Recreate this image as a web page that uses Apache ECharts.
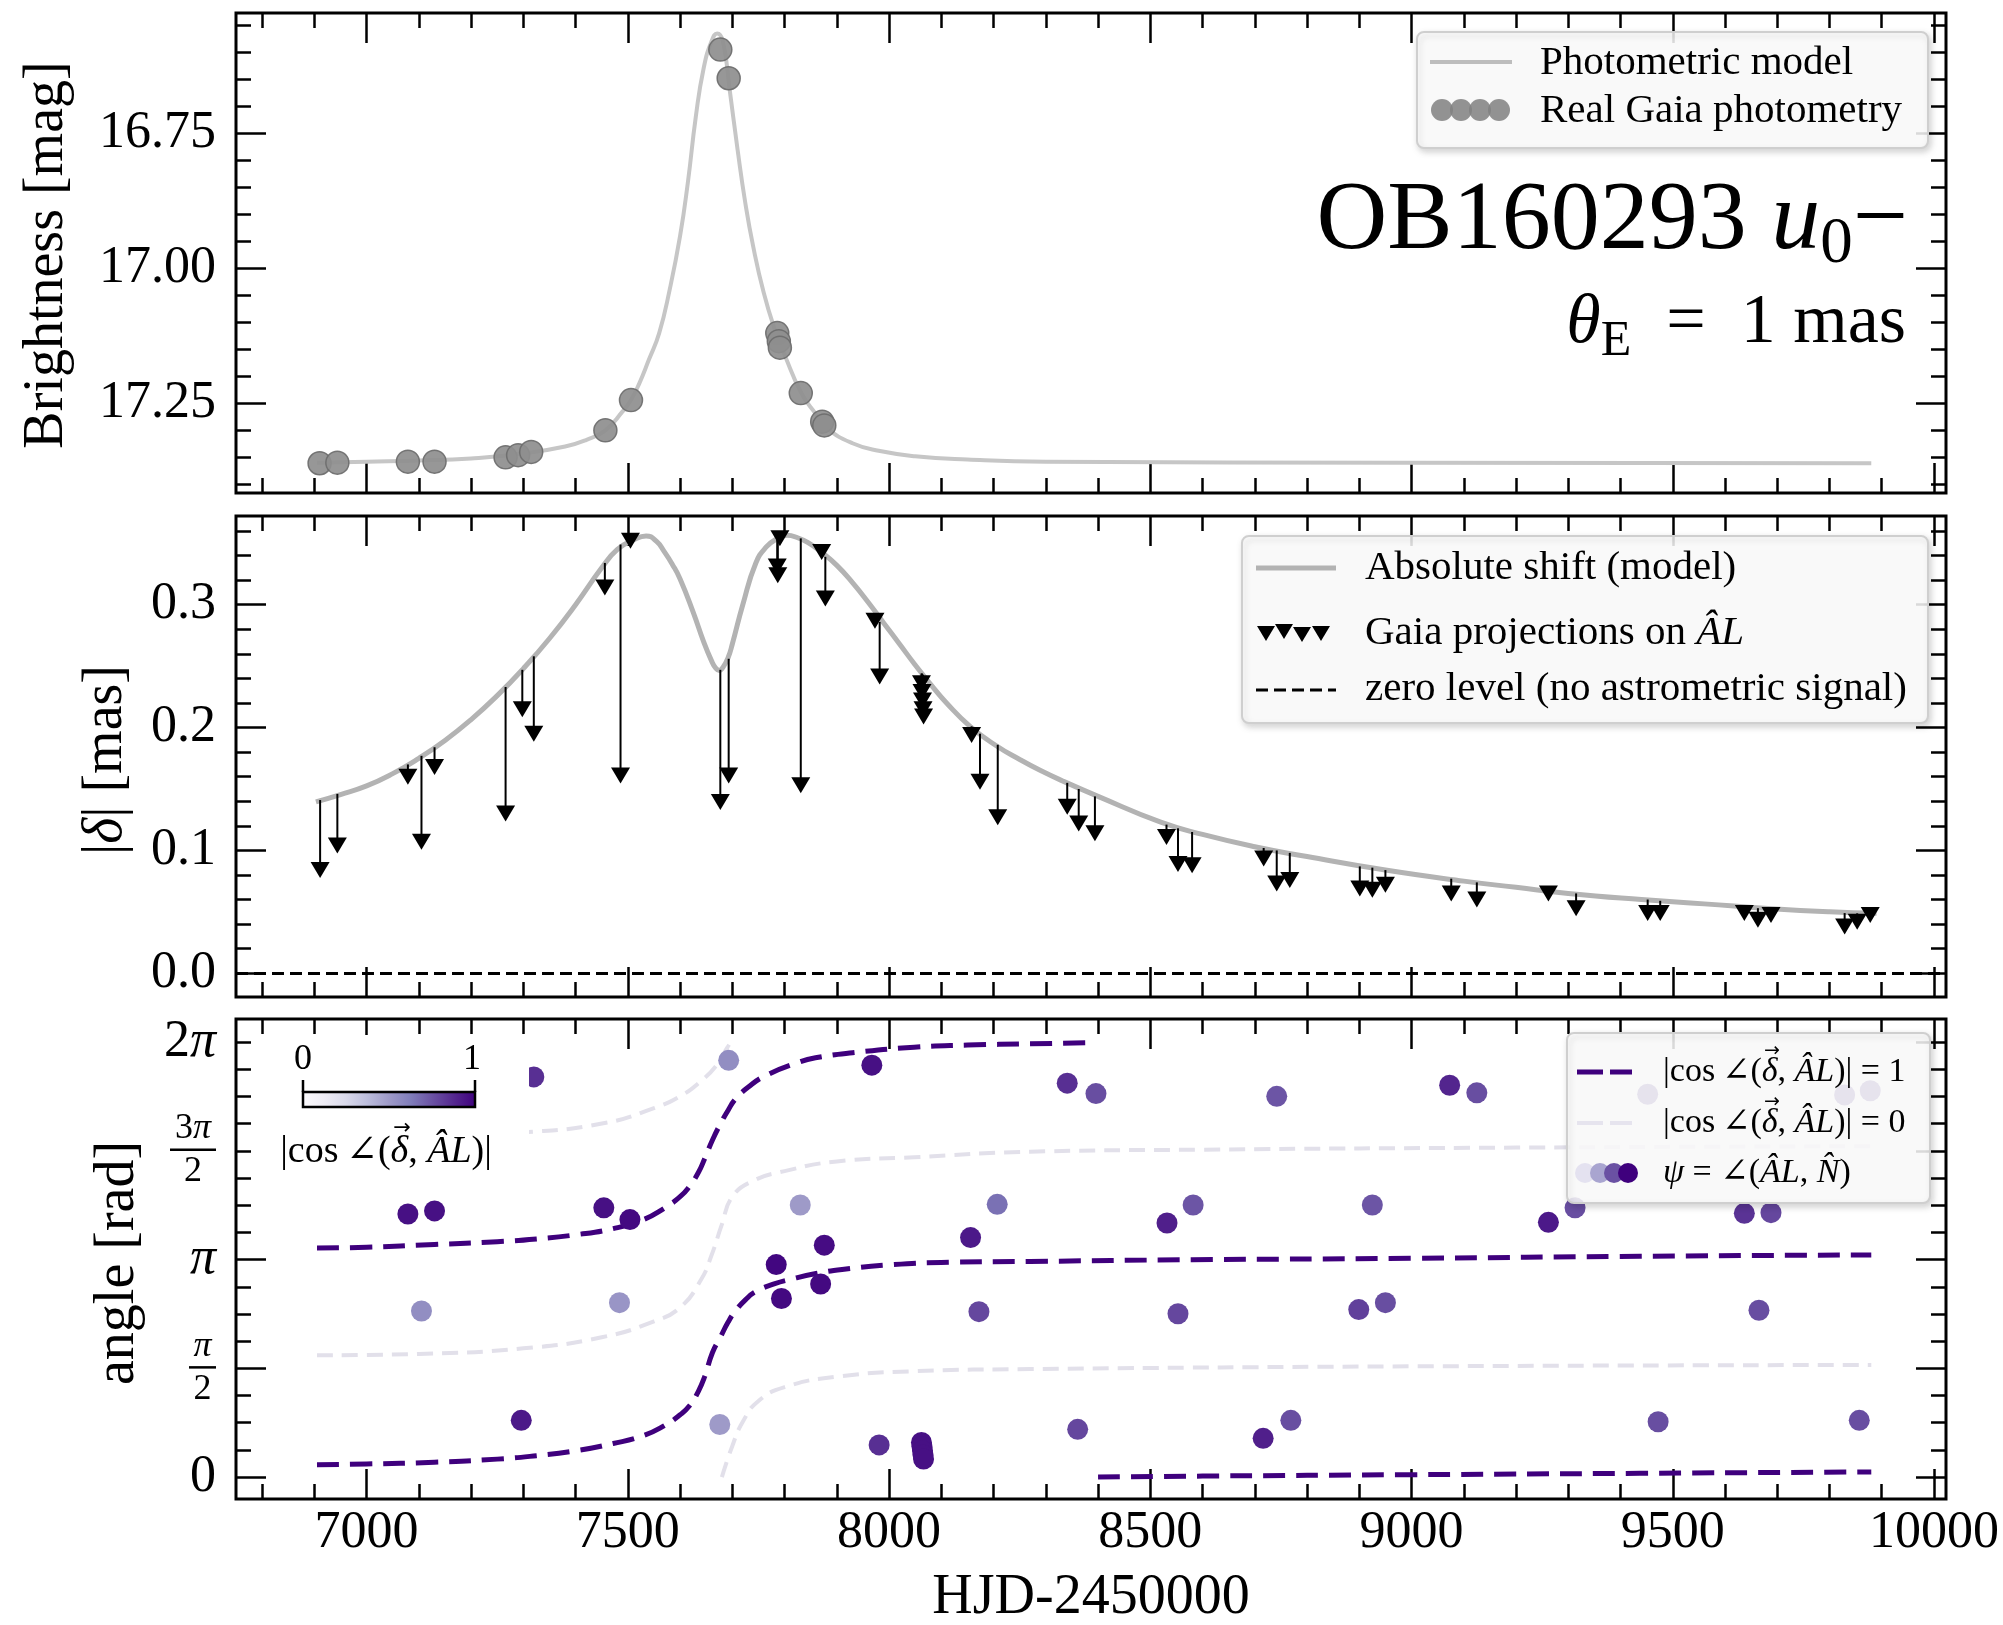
<!DOCTYPE html>
<html>
<head>
<meta charset="utf-8">
<title>OB160293 u0− — photometry, astrometric shift and scan angles</title>
<script src="https://cdn.jsdelivr.net/npm/echarts@6/dist/echarts.min.js"></script>
<style>
  html, body { margin: 0; padding: 0; background: #ffffff; }
  #chart { width: 2003px; height: 1625px; }
</style>
</head>
<body>
<div id="chart"></div>
<script>
// ---------------------------------------------------------------------------
// Data (time axis in HJD-2450000)
// ---------------------------------------------------------------------------
const X_MIN = 6750, X_MAX = 10023;
const xTickValues = [7000, 7500, 8000, 8500, 9000, 9500, 10000];

// Panel 1: light curve [t, mag]
const magTickValues = [16.75, 17.00, 17.25];
const photModel = [
  [6905, 17.360], [7000, 17.358], [7100, 17.356], [7200, 17.352], [7300, 17.343],
  [7380, 17.330], [7420, 17.318], [7457, 17.300], [7490, 17.265], [7506, 17.244],
  [7522, 17.213], [7540, 17.170], [7560, 17.120], [7580, 17.040], [7600, 16.940],
  [7615, 16.840], [7630, 16.720], [7645, 16.630], [7660, 16.580], [7671, 16.565],
  [7682, 16.580], [7695, 16.670], [7710, 16.780], [7725, 16.880], [7740, 16.960],
  [7760, 17.045], [7780, 17.110], [7800, 17.160], [7832, 17.231], [7860, 17.270],
  [7881, 17.296], [7930, 17.324], [7980, 17.338], [8050, 17.348], [8150, 17.354],
  [8300, 17.358], [9000, 17.360], [9880, 17.361]
];
const photObs = [
  [6910, 17.361], [6944, 17.360], [7079, 17.358], [7130, 17.358], [7266, 17.350],
  [7290, 17.346], [7315, 17.340], [7457, 17.300], [7506, 17.244], [7677, 16.595],
  [7693, 16.648], [7786, 17.120], [7789, 17.135], [7791, 17.147], [7831, 17.231],
  [7872, 17.284], [7876, 17.291]
];

// Panel 2: astrometric shift [t, mas]
const shiftTickValues = [0.0, 0.1, 0.2, 0.3];
const shiftModel = [
  [6903, 0.1395], [6950, 0.1455], [7000, 0.1525], [7050, 0.1625], [7100, 0.1750],
  [7150, 0.1895], [7200, 0.2065], [7250, 0.2260], [7300, 0.2480], [7350, 0.2725],
  [7400, 0.3000], [7450, 0.3300], [7480, 0.3450], [7510, 0.3525], [7535, 0.3560],
  [7555, 0.3515], [7570, 0.3430], [7585, 0.3330], [7600, 0.3210], [7625, 0.2940],
  [7645, 0.2700], [7660, 0.2545], [7668, 0.2485], [7675, 0.2465], [7682, 0.2490],
  [7692, 0.2570], [7700, 0.2680], [7720, 0.3000], [7745, 0.3340], [7765, 0.3470],
  [7785, 0.3535], [7805, 0.3565], [7825, 0.3545], [7845, 0.3505], [7870, 0.3430],
  [7900, 0.3320], [7930, 0.3180], [7960, 0.3020], [7990, 0.2850], [8020, 0.2680],
  [8050, 0.2510], [8080, 0.2350], [8110, 0.2200], [8155, 0.2010], [8206, 0.1850],
  [8250, 0.1740], [8290, 0.1650], [8335, 0.1560], [8400, 0.1440], [8520, 0.1230],
  [8600, 0.1130], [8700, 0.1030], [8800, 0.0950], [8950, 0.0840], [9100, 0.0750],
  [9200, 0.0700], [9300, 0.0650], [9440, 0.0600], [9560, 0.0565], [9690, 0.0525],
  [9800, 0.0500], [9890, 0.0488]
];
const projT = [6911, 6944, 7079, 7105, 7130, 7266, 7298, 7320, 7456, 7486, 7505,
  7677, 7693, 7786, 7787, 7791, 7831, 7871, 7878, 7973, 7982, 8062, 8063, 8064,
  8065, 8066, 8158, 8174, 8208, 8341, 8363, 8394, 8531, 8553, 8580, 8717, 8742,
  8767, 8901, 8925, 8950, 9076, 9125, 9262, 9315, 9452, 9476, 9637, 9663, 9688,
  9829, 9853, 9878];
const projVal = [0.084, 0.104, 0.160, 0.107, 0.168, 0.130, 0.215, 0.195, 0.314,
  0.161, 0.352, 0.1395, 0.161, 0.331, 0.324, 0.354, 0.153, 0.343, 0.305, 0.287,
  0.2415, 0.236, 0.229, 0.222, 0.215, 0.209, 0.194, 0.156, 0.127, 0.1355, 0.122,
  0.114, 0.111, 0.089, 0.088, 0.0935, 0.073, 0.076, 0.069, 0.068, 0.072, 0.065,
  0.060, 0.065, 0.053, 0.049, 0.049, 0.049, 0.0435, 0.0475, 0.038, 0.042, 0.0475];
const projModel = [0.141, 0.146, 0.170, 0.177, 0.184, 0.233, 0.247, 0.258, 0.334,
  0.349, 0.353, 0.247, 0.256, 0.353, 0.353, 0.355, 0.354, 0.343, 0.339, 0.291,
  0.286, 0.244, 0.244, 0.243, 0.243, 0.242, 0.201, 0.195, 0.186, 0.155, 0.150,
  0.144, 0.121, 0.118, 0.115, 0.102, 0.100, 0.098, 0.087, 0.086, 0.084, 0.077,
  0.074, 0.067, 0.065, 0.060, 0.059, 0.054, 0.053, 0.0525, 0.049, 0.0488, 0.0485];

// Panel 3: angles [t, rad]
const angleTickValues = [0, Math.PI / 2, Math.PI, 3 * Math.PI / 2, 2 * Math.PI];
const angleTickLabels = ['0', 'π/2', 'π', '3π/2', '2π'];
const alignedLow = [
  [6905, 0.18], [7000, 0.19], [7130, 0.215], [7250, 0.26], [7325, 0.31], [7400, 0.38],
  [7472, 0.485], [7530, 0.60], [7569, 0.74], [7600, 0.90], [7618, 1.03], [7635, 1.24],
  [7647, 1.45], [7662, 1.80], [7677, 2.02], [7692, 2.24], [7706, 2.40], [7725, 2.56],
  [7745, 2.68], [7780, 2.79], [7813, 2.86], [7860, 2.94], [7910, 3.00], [8008, 3.07],
  [8100, 3.10], [8270, 3.115], [8580, 3.14], [9000, 3.16], [9437, 3.19], [9880, 3.21]
];
const alignedHigh = [
  [6905, 3.31], [7000, 3.32], [7130, 3.36], [7250, 3.40], [7325, 3.44], [7400, 3.50],
  [7472, 3.59], [7530, 3.72], [7569, 3.88], [7600, 4.05], [7618, 4.20], [7635, 4.40],
  [7647, 4.60], [7662, 4.87], [7677, 5.10], [7692, 5.30], [7706, 5.46], [7730, 5.63],
  [7764, 5.80], [7826, 5.99], [7862, 6.06], [7930, 6.13], [8048, 6.21], [8150, 6.24],
  [8270, 6.258], [8395, 6.275]
];
const alignedWrap = [
  [8400, 0.0], [8600, 0.015], [9000, 0.035], [9437, 0.055], [9880, 0.075]
];
const perpA = [
  [6905, 1.76], [7100, 1.78], [7300, 1.86], [7450, 2.02], [7550, 2.25], [7600, 2.45],
  [7640, 2.85], [7660, 3.20], [7680, 3.65], [7700, 4.05], [7740, 4.28], [7800, 4.42],
  [7900, 4.56], [8048, 4.62], [8270, 4.70], [8600, 4.73], [9200, 4.76], [9880, 4.78]
];
const perpB1 = [
  [6905, 4.87], [7100, 4.92], [7300, 4.98], [7453, 5.11], [7550, 5.33], [7600, 5.50],
  [7640, 5.72], [7670, 5.95], [7690, 6.20], [7697, 6.28]
];
const perpB2 = [
  [7680, 0.0], [7700, 0.45], [7720, 0.80], [7750, 1.10], [7800, 1.30], [7900, 1.45],
  [8050, 1.53], [8270, 1.56], [9000, 1.60], [9880, 1.62]
];
// scan angle psi: [t, rad, |cos|]
const psiObs = [
  [7079, 3.80, 0.95], [7105, 2.40, 0.55], [7130, 3.845, 0.95], [7296, 0.82, 0.92],
  [7320, 5.78, 0.85], [7454, 3.89, 0.95], [7484, 2.52, 0.52], [7504, 3.72, 0.97],
  [7676, 0.76, 0.50], [7693, 6.02, 0.55], [7784, 3.07, 0.98], [7794, 2.58, 0.97],
  [7830, 3.93, 0.50], [7869, 2.79, 0.97], [7876, 3.35, 0.96], [7967, 5.95, 0.95],
  [7981, 0.465, 0.85], [8062, 0.50, 0.95], [8063, 0.44, 0.95], [8064, 0.38, 0.95],
  [8065, 0.32, 0.95], [8066, 0.26, 0.95], [8156, 3.46, 0.92], [8172, 2.39, 0.78],
  [8207, 3.94, 0.66], [8341, 5.69, 0.85], [8361, 0.69, 0.78], [8396, 5.54, 0.76],
  [8532, 3.67, 0.90], [8553, 2.36, 0.78], [8582, 3.93, 0.74], [8716, 0.56, 0.90],
  [8742, 5.50, 0.74], [8769, 0.82, 0.76], [8899, 2.42, 0.80], [8925, 3.93, 0.74],
  [8950, 2.52, 0.76], [9073, 5.66, 0.88], [9125, 5.55, 0.76], [9262, 3.68, 0.92],
  [9313, 3.89, 0.76], [9452, 5.53, 0.76], [9472, 0.80, 0.76], [9637, 3.81, 0.84],
  [9665, 2.41, 0.76], [9688, 3.82, 0.78], [9829, 5.52, 0.76], [9857, 0.82, 0.76],
  [9878, 5.58, 0.76]
];

// ---------------------------------------------------------------------------
// Styling helpers
// ---------------------------------------------------------------------------
const FONT = "'Liberation Serif', 'DejaVu Serif', serif";
const PURPLES = ['#fcfbfd', '#efedf5', '#dadaeb', '#bcbddc', '#9e9ac8',
                 '#807dba', '#6a51a3', '#54278f', '#3f007d'];

function steps(from, to, step) {
  const out = [];
  const n = Math.round((to - from) / step);
  for (let k = 0; k <= n; k++) out.push(+(from + k * step).toFixed(6));
  return out;
}
const xMinorTicks = steps(6800, 10000, 100);
const magMinorTicks = steps(16.55, 17.40, 0.05);
const shiftMinorTicks = steps(0, 0.36, 0.02);
const angleMinorTicks = steps(0, 16, 1).map(k => k * Math.PI / 8);

const tickLine = { color: '#000', width: 2.5 };
function makeAxis(gridIndex, position, min, max, ticks, len, extra) {
  return Object.assign({
    type: 'value', gridIndex, position, min, max,
    axisLine: { show: false, onZero: false },
    splitLine: { show: false },
    axisTick: { show: true, inside: true, length: len, customValues: ticks, lineStyle: tickLine },
    axisLabel: { show: false }
  }, extra || {});
}

function angleLabel(v) {
  const i = angleTickValues.findIndex(t => Math.abs(t - v) < 1e-6);
  if (i < 0) return '';
  const s = angleTickLabels[i];
  if (s.indexOf('/') >= 0) {
    const [num, den] = s.split('/');
    const bar = num.length > 1 ? 'bar3' : 'bar1';
    const top = num.replace(/(\d*)π/, (m, d) => (d ? '{n|' + d + '}' : '') + '{np|π}');
    return top + '\n{' + bar + '| }\n{d|' + den + '}';
  }
  if (s.indexOf('π') >= 0) return s.replace(/(\d*)π/, (m, d) => (d ? '{a|' + d + '}' : '') + '{p|π}');
  return '{a|' + s + '}';
}
const angleRich = {
  a: { fontSize: 52, fontFamily: FONT, color: '#000' },
  p: { fontSize: 52, fontFamily: FONT, fontStyle: 'italic', color: '#000' },
  n: { fontSize: 36, fontFamily: FONT, color: '#000', align: 'center', lineHeight: 34 },
  np: { fontSize: 36, fontFamily: FONT, fontStyle: 'italic', color: '#000', align: 'center', lineHeight: 34 },
  bar3: { width: 46, height: 2.5, lineHeight: 8, fontSize: 1, backgroundColor: '#000', align: 'center' },
  bar1: { width: 27, height: 2.5, lineHeight: 8, fontSize: 1, backgroundColor: '#000', align: 'center' },
  d: { fontSize: 36, fontFamily: FONT, color: '#000', align: 'center', lineHeight: 36 }
};

const yDefs = [
  { min: 16.5272, max: 17.4161, inverse: true, major: magTickValues, minor: magMinorTicks,
    label: { formatter: v => v.toFixed(2) } },
  { min: -0.0193, max: 0.3722, inverse: false, major: shiftTickValues, minor: shiftMinorTicks,
    label: { formatter: v => v.toFixed(1) } },
  { min: -0.316, max: 6.617, inverse: false, major: angleTickValues, minor: angleMinorTicks,
    label: { formatter: angleLabel, rich: angleRich } }
];

const grids = [
  { left: 236, top: 13, width: 1710, height: 480 },
  { left: 236, top: 516, width: 1710, height: 481 },
  { left: 236, top: 1019, width: 1710, height: 480 }
].map(g => Object.assign(g, { show: true, borderColor: '#000', borderWidth: 3,
  backgroundColor: 'transparent', containLabel: false, outerBoundsMode: 'none' }));

const xAxes = [], yAxes = [];
[0, 1, 2].forEach(g => {
  const xLabel = g === 2 ? { axisLabel: { show: true, customValues: xTickValues, margin: 8,
    fontSize: 52, fontFamily: FONT, color: '#000', formatter: v => String(Math.round(v)) } } : null;
  xAxes.push(makeAxis(g, 'bottom', X_MIN, X_MAX, xTickValues, 30, xLabel));
  xAxes.push(makeAxis(g, 'bottom', X_MIN, X_MAX, xMinorTicks, 15));
  xAxes.push(makeAxis(g, 'top', X_MIN, X_MAX, xTickValues, 30));
  xAxes.push(makeAxis(g, 'top', X_MIN, X_MAX, xMinorTicks, 15));

  const d = yDefs[g];
  const yLabel = { inverse: d.inverse, axisLabel: Object.assign({ show: true, customValues: d.major,
    margin: 20, fontSize: 52, fontFamily: FONT, color: '#000' }, d.label) };
  yAxes.push(makeAxis(g, 'left', d.min, d.max, d.major, 30, yLabel));
  yAxes.push(makeAxis(g, 'left', d.min, d.max, d.minor, 15, { inverse: d.inverse }));
  yAxes.push(makeAxis(g, 'right', d.min, d.max, d.major, 30, { inverse: d.inverse }));
  yAxes.push(makeAxis(g, 'right', d.min, d.max, d.minor, 15, { inverse: d.inverse }));
});

// ---------------------------------------------------------------------------
// Series
// ---------------------------------------------------------------------------
const ax = g => ({ xAxisIndex: 4 * g, yAxisIndex: 4 * g });
const curve = (g, data, color, width, dash, z) => Object.assign({
  type: 'line', data, symbol: 'none', showSymbol: false, smooth: 0.5,
  silent: true, z: z || 2, lineStyle: { color, width, type: dash || 'solid', cap: 'butt', join: 'round' }
}, ax(g));

const series = [
  curve(0, photModel, '#c6c6c6', 4),
  Object.assign({ type: 'scatter', data: photObs, symbolSize: 23, silent: true, z: 3,
    itemStyle: { color: '#8e8e8e', borderColor: '#6c6c6c', borderWidth: 1.5, opacity: 0.92 } }, ax(0)),

  Object.assign(curve(1, shiftModel, '#b3b3b3', 5), {
    markLine: { silent: true, symbol: ['none', 'none'], label: { show: false },
      lineStyle: { color: '#000', type: [12, 6], width: 3 }, data: [{ yAxis: 0 }] }
  }),
  Object.assign({
    type: 'custom', silent: true, z: 3,
    data: projT.map((t, i) => [t, projModel[i], projVal[i]]),
    renderItem: (params, api) => {
      const a = api.coord([api.value(0), api.value(1)]);
      const b = api.coord([api.value(0), api.value(2)]);
      return { type: 'line', shape: { x1: a[0], y1: a[1], x2: b[0], y2: b[1] },
        style: { stroke: '#000', lineWidth: 2 } };
    }
  }, ax(1)),
  Object.assign({ type: 'scatter', data: projT.map((t, i) => [t, projVal[i]]), silent: true, z: 4,
    symbol: 'triangle', symbolRotate: 180, symbolSize: [19, 16],
    itemStyle: { color: '#000', opacity: 1 } }, ax(1)),

  curve(2, perpA, '#e2e0ea', 4, [16, 9]),
  curve(2, perpB1, '#e2e0ea', 4, [16, 9]),
  curve(2, perpB2, '#e2e0ea', 4, [16, 9]),
  curve(2, alignedLow, '#3f007d', 5, [22, 11], 3),
  curve(2, alignedHigh, '#3f007d', 5, [22, 11], 3),
  curve(2, alignedWrap, '#3f007d', 5, [22, 11], 3),
  Object.assign({ type: 'scatter', data: psiObs, symbolSize: 21, silent: true, z: 4,
    itemStyle: { opacity: 1 } }, ax(2))
];
const PSI_SERIES = series.length - 1;

// ---------------------------------------------------------------------------
// Annotations, legends and the colour-bar inset
// ---------------------------------------------------------------------------
const measureCtx = document.createElement('canvas').getContext('2d');
function textWidth(str, size, italic) {
  measureCtx.font = (italic ? 'italic ' : '') + size + 'px ' + FONT;
  return measureCtx.measureText(str).width;
}
const ital = size => ({ fontStyle: 'italic', fontSize: size, fontFamily: FONT, fill: '#000' });
function text(x, y, str, size, extra, align) {
  return Object.assign({ type: 'text', z: 101, x, y, silent: true,
    style: { text: str, fontSize: size, fontFamily: FONT, fill: '#000', align: align || 'left',
      verticalAlign: 'middle', rich: { i: ital(size) } } }, extra || {});
}
function box(x, y, w, h) {
  return { type: 'rect', z: 100, silent: true, shape: { x, y, width: w, height: h, r: 7 },
    style: { fill: 'rgba(255,255,255,0.85)', stroke: '#cfcfcf', lineWidth: 2,
      shadowBlur: 6, shadowOffsetX: 2, shadowOffsetY: 3, shadowColor: 'rgba(0,0,0,0.18)' } };
}
const hline = (x1, x2, y, stroke, w, dash, z) => ({ type: 'line', z: z || 101, silent: true,
  shape: { x1, y1: y, x2, y2: y }, style: { stroke, lineWidth: w, lineDash: dash || null } });
const dot = (cx, cy, r, fill, z) => ({ type: 'circle', z: z || 101, silent: true,
  shape: { cx, cy, r }, style: { fill } });
const downTri = (cx, cy) => ({ type: 'polygon', z: 101, silent: true,
  shape: { points: [[cx - 9, cy - 7], [cx + 9, cy - 7], [cx, cy + 8]] }, style: { fill: '#000' } });

// |cos∠(δ, ÂL)| with a vector arrow drawn over the δ
const COS_PRE = '|cos\u2009∠(';
function cosLabel(x, y, size, suffix, align, z) {
  const str = COS_PRE + '{i|δ}, {i|ÂL})|' + suffix;
  const total = textWidth(COS_PRE, size) + textWidth('δ', size, true) + textWidth(', ', size) +
    textWidth('ÂL', size, true) + textWidth(')|' + suffix, size);
  const left = align === 'center' ? x - total / 2 : x;
  const ax0 = left + textWidth(COS_PRE, size) + textWidth('δ', size, true) * 0.5 + size * 0.07;
  return [
    text(x, y, str, size, { z: z || 101 }, align),
    { type: 'text', z: (z || 101) + 1, x: ax0, y: y - size * 0.62, silent: true,
      style: { text: '→', fontSize: Math.round(size * 0.55), fontFamily: "'DejaVu Sans', sans-serif",
        fill: '#000', align: 'center', verticalAlign: 'middle' } }
  ];
}

const graphics = [
  // event label
  { type: 'text', z: 60, x: 1908, y: 222, silent: true, style: {
      text: 'OB160293 {i|u}{s|0}−', fontSize: 98, fontFamily: FONT, fill: '#000',
      align: 'right', verticalAlign: 'middle',
      rich: { i: ital(98), s: { fontSize: 65, fontFamily: FONT, fill: '#000', padding: [46, 0, 0, 0] } } } },
  { type: 'text', z: 60, x: 1906, y: 324, silent: true, style: {
      text: '{i|θ}{e|E}\u2002=\u20021 mas', fontSize: 70, fontFamily: FONT, fill: '#000',
      align: 'right', verticalAlign: 'middle',
      rich: { i: ital(70), e: { fontSize: 50, fontFamily: FONT, fill: '#000', padding: [36, 0, 0, 0] } } } },

  // axis titles
  text(47, 255, 'Brightness [mag]', 56, { rotation: Math.PI / 2 }, 'center'),
  text(106, 760, '|{i|δ}| [mas]', 56, { rotation: Math.PI / 2 }, 'center'),
  text(118, 1263, 'angle [rad]', 56, { rotation: Math.PI / 2 }, 'center'),
  text(1091, 1598, 'HJD-2450000', 56, null, 'center'),

  // legend: light curve
  box(1417, 32, 511, 116),
  hline(1430, 1512, 62, '#bdbdbd', 4),
  dot(1442, 110, 11, 'rgba(128,128,128,0.85)'), dot(1461, 110, 11, 'rgba(128,128,128,0.85)'),
  dot(1480, 110, 11, 'rgba(128,128,128,0.85)'), dot(1499, 110, 11, 'rgba(128,128,128,0.85)'),
  text(1540, 63, 'Photometric model', 41),
  text(1540, 111, 'Real Gaia photometry', 41),

  // legend: astrometric shift
  box(1242, 536, 686, 187),
  hline(1256, 1336, 568, '#b3b3b3', 5),
  downTri(1266, 633), downTri(1284, 631), downTri(1302, 634), downTri(1321, 633),
  hline(1256, 1336, 690, '#000', 3, [12, 6]),
  text(1365, 568, 'Absolute shift (model)', 41),
  text(1365, 633, 'Gaia projections on {i|ÂL}', 41),
  text(1365, 689, 'zero level (no astrometric signal)', 41),

  // legend: angles
  box(1567, 1033, 363, 170),
  hline(1577, 1632, 1072, '#3f007d', 5, [26, 7]),
  hline(1577, 1632, 1123, '#e6e4ee', 4, [26, 7]),
  dot(1585, 1173, 10, '#e4e2f0'), dot(1600, 1173, 10, '#a9a5d0'),
  dot(1614, 1173, 10, '#6a51a3'), dot(1628, 1173, 10, '#3f007d'),
  ...cosLabel(1663, 1072, 34, ' = 1'),
  ...cosLabel(1663, 1123, 34, ' = 0'),
  text(1663, 1173, '{i|ψ} = ∠({i|ÂL}, {i|N\u0302})', 34),

  // colour-bar inset (opaque background)
  { type: 'rect', z: 50, silent: true, shape: { x: 251, y: 1035, width: 278, height: 140 },
    style: { fill: '#ffffff' } },
  { type: 'rect', z: 51, silent: true, shape: { x: 303, y: 1092, width: 172, height: 15 },
    style: { fill: new echarts.graphic.LinearGradient(0, 0, 1, 0,
      PURPLES.map((c, i) => ({ offset: i / (PURPLES.length - 1), color: c }))),
      stroke: '#000', lineWidth: 2.5 } },
  { type: 'line', z: 52, silent: true, shape: { x1: 303, y1: 1092, x2: 303, y2: 1080 },
    style: { stroke: '#000', lineWidth: 2.5 } },
  { type: 'line', z: 52, silent: true, shape: { x1: 475, y1: 1092, x2: 475, y2: 1080 },
    style: { stroke: '#000', lineWidth: 2.5 } },
  text(303, 1060, '0', 36, { z: 52 }, 'center'),
  text(472, 1060, '1', 36, { z: 52 }, 'center'),
  ...cosLabel(386, 1152, 38, '', 'center', 52)
];

// ---------------------------------------------------------------------------
const chart = echarts.init(document.getElementById('chart'), null, { renderer: 'canvas' });
chart.setOption({
  animation: false,
  backgroundColor: '#ffffff',
  textStyle: { fontFamily: FONT },
  grid: grids,
  xAxis: xAxes,
  yAxis: yAxes,
  visualMap: {
    type: 'continuous', show: false, seriesIndex: PSI_SERIES, dimension: 2,
    min: 0, max: 1, inRange: { color: PURPLES }
  },
  series,
  graphic: { elements: graphics }
});
</script>
</body>
</html>
